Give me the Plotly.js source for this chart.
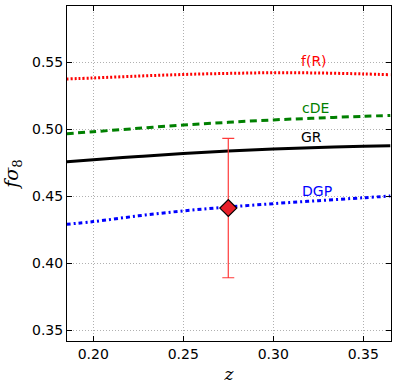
<!DOCTYPE html>
<html>
<head>
<meta charset="utf-8">
<script src="https://cdn.plot.ly/plotly-3.0.1.min.js"></script>
<style>
  html, body { margin: 0; padding: 0; background: #fff; }
  #chart { width: 398px; height: 390px; }
</style>
</head>
<body>
<div id="chart"></div>
<script>
// redshift grid for the model curves
const zGrid = [0.185, 0.20, 0.225, 0.25, 0.275, 0.30, 0.325, 0.35, 0.365];

const fRValues  = [0.5373, 0.5381, 0.5395, 0.5407, 0.5415, 0.5420, 0.5418, 0.5411, 0.5405];
const cDEValues = [0.4965, 0.4980, 0.5005, 0.5030, 0.5050, 0.5068, 0.5082, 0.5095, 0.5101];
const grValues  = [0.4755, 0.4770, 0.4795, 0.4818, 0.4836, 0.4851, 0.4862, 0.4871, 0.4876];
const dgpValues = [0.4289, 0.4309, 0.4352, 0.4389, 0.4418, 0.4443, 0.4465, 0.4487, 0.4500];

// measurement
const obsZ = [0.275];
const obsValue = [0.441];
const obsError = [0.052];

const modelLabels = ['f(R)', 'cDE', 'GR', 'DGP'];
const labelZ = [0.3228, 0.3233, 0.3214, 0.3244];
const labelY = [0.5507, 0.5160, 0.4940, 0.4537];
const labelColors = ['red', 'green', 'black', 'blue'];

function modelTrace(values, color, dash) {
  return {
    x: zGrid,
    y: values,
    mode: 'lines',
    type: 'scatter',
    line: {color: color, width: 3, dash: dash, shape: 'spline'},
    hoverinfo: 'skip'
  };
}

const traces = [
  modelTrace(fRValues, 'red', '2px,2px'),
  modelTrace(cDEValues, 'green', '7px,4.5px'),
  modelTrace(grValues, 'black', 'solid'),
  modelTrace(dgpValues, 'blue', '4px,3px,2px,3px'),
  {
    x: obsZ,
    y: obsValue,
    mode: 'markers',
    type: 'scatter',
    marker: {symbol: 'diamond', size: 13, color: '#e8202a', line: {color: 'black', width: 1.2}},
    error_y: {type: 'data', array: obsError, visible: true, color: '#ff3a3a', thickness: 1.2, width: 6}
  }
];

const annotations = modelLabels.map((txt, i) => ({
  x: labelZ[i],
  y: labelY[i],
  text: txt,
  showarrow: false,
  font: {family: 'DejaVu Sans', size: 14, color: labelColors[i]}
}));

const axisCommon = {
  showline: true,
  linecolor: 'black',
  linewidth: 1,
  mirror: 'ticks',
  ticks: 'inside',
  ticklen: 5,
  tickcolor: 'black',
  showgrid: true,
  gridcolor: '#b0b0b0',
  griddash: '1px,2px',
  gridwidth: 1,
  zeroline: false,
  tickfont: {family: 'DejaVu Sans', size: 14, color: 'black'}
};

const layout = {
  width: 398,
  height: 390,
  margin: {l: 67, r: 7, t: 6, b: 49},
  paper_bgcolor: 'white',
  plot_bgcolor: 'white',
  showlegend: false,
  xaxis: Object.assign({}, axisCommon, {
    range: [0.1854, 0.3654],
    tickvals: [0.20, 0.25, 0.30, 0.35],
    ticktext: ['0.20', '0.25', '0.30', '0.35'],
    title: {text: '<i>z</i>', font: {family: 'DejaVu Serif', size: 17, color: 'black'}, standoff: 7}
  }),
  yaxis: Object.assign({}, axisCommon, {
    range: [0.3418, 0.5918],
    tickvals: [0.35, 0.40, 0.45, 0.50, 0.55],
    ticktext: ['0.35', '0.40', '0.45', '0.50', '0.55'],
    title: {text: '<i>fσ</i><sub>8</sub>', font: {family: 'DejaVu Serif', size: 19, color: 'black'}, standoff: 8}
  }),
  annotations: annotations
};

Plotly.newPlot('chart', traces, layout, {staticPlot: true, displayModeBar: false});
</script>
</body>
</html>
